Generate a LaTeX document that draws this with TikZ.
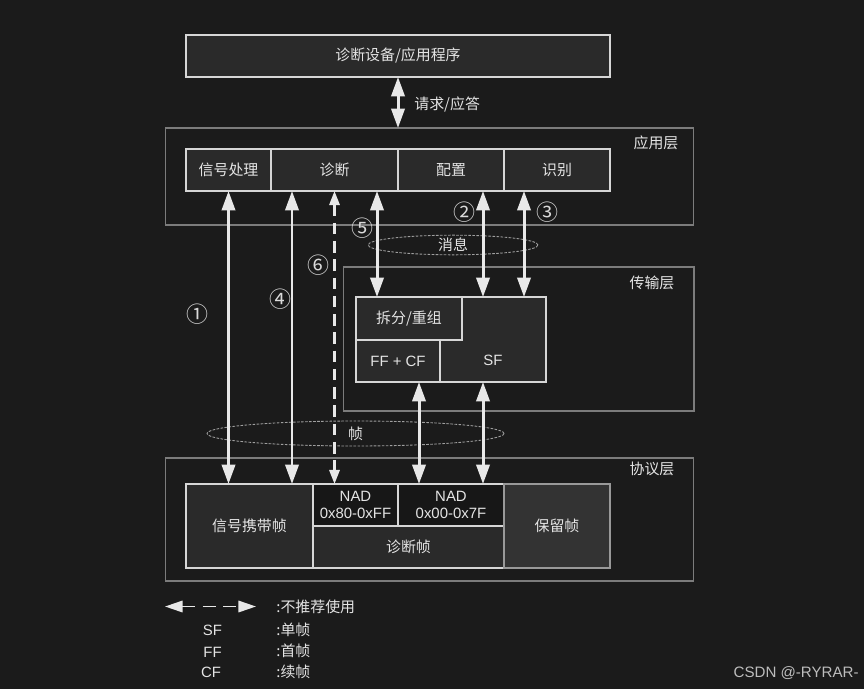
\documentclass[tikz,border=0pt]{standalone}
\usepackage{fontspec}
\setmainfont{Liberation Sans}
\newfontfamily\cjk{Noto Sans CJK SC}
\usetikzlibrary{arrows.meta, shapes.geometric}

\definecolor{bgc}{HTML}{1B1B1B}
\definecolor{boxfill}{HTML}{2A2A2A}
\definecolor{nadfill}{HTML}{171717}
\definecolor{resfill}{HTML}{333333}
\definecolor{boxline}{HTML}{D6D6D6}
\definecolor{layerline}{HTML}{7C7C7C}
\definecolor{txt}{HTML}{E4E4E4}
\definecolor{arr}{HTML}{E8E8E8}
\definecolor{wmark}{HTML}{BDBDBD}

\tikzset{
  box/.style={draw=boxline, line width=0.9pt, fill=boxfill, text=txt, inner sep=0pt, outer sep=0pt,
    font=\cjk\fontsize{8.5}{10}\selectfont, align=center},
  latin/.style={font=\fontsize{8.5}{9.6}\selectfont},
  layer/.style={draw=layerline, line width=0.6pt, inner sep=0pt, outer sep=0pt},
  lbl/.style={text=txt, font=\cjk\fontsize{8.5}{10}\selectfont, inner sep=0pt},
  num/.style={text=txt!90!gray, font=\cjk\fontsize{12.5}{14}\selectfont, inner sep=0pt},
  ring/.style={ellipse, draw=gray!75, line width=0.5pt, dash pattern=on 1.5pt off 0.8pt, inner sep=0pt,
    text=txt, font=\cjk\fontsize{8.5}{10}\selectfont},
  dbl/.style={arr, line width=1.7pt, {Triangle[length=11pt,width=7.5pt]}-{Triangle[length=11pt,width=7.5pt]}},
  dbldash/.style={arr, line width=1.4pt, dash pattern=on 6.6pt off 3.8pt,
    {Triangle[length=8pt,width=5.8pt]}-{Triangle[length=8pt,width=5.8pt]}},
  legdash/.style={arr, line width=1.1pt, dash pattern=on 7.4pt off 4.3pt,
    {Triangle[length=10pt,width=6.5pt]}-{Triangle[length=10pt,width=6.5pt]}},
}

\begin{document}
\begin{tikzpicture}[x=0.02cm, y=-0.02cm]

\fill[bgc] (0,0) rectangle (864,689);

% ---------- DIAGNOSTIC TOOL ----------

\node[box, minimum width=8.48cm, minimum height=0.84cm] (tool) at (398,56) {诊断设备/应用程序};

% ---------- APPLICATION LAYER ----------

\node[layer, minimum width=10.58cm, minimum height=1.94cm] (applayer) at (429.5,176.5) {};
\node[lbl] (applbl) at (656,143) {应用层};

\node[box, minimum width=1.70cm, minimum height=0.84cm] (sigproc) at (228.5,170) {信号处理};
\node[box, minimum width=2.54cm, minimum height=0.84cm] (diag) at (334.5,170) {诊断};
\node[box, minimum width=2.12cm, minimum height=0.84cm] (config) at (451,170) {配置};
\node[box, minimum width=2.12cm, minimum height=0.84cm] (ident) at (557,170) {识别};

% ---------- TRANSPORT LAYER ----------

\node[layer, minimum width=7.02cm, minimum height=2.88cm] (tplayer) at (518.5,339) {};
\node[lbl] (tplbl) at (652,283) {传输层};

\node[box, minimum width=3.80cm, minimum height=1.70cm] (tpblock) at (451,339.5) {};
\node[box, minimum width=2.12cm, minimum height=0.86cm] (split) at (409,318.5) {拆分/重组};
\node[box, latin, minimum width=1.68cm, minimum height=0.84cm] (ffcf) at (398,361) {FF + CF};
\node[lbl, latin] (sf) at (493,360) {SF};

% ---------- PROTOCOL LAYER ----------

\node[layer, minimum width=10.58cm, minimum height=2.46cm] (prlayer) at (429.5,519.5) {};
\node[lbl] (prlbl) at (652,469) {协议层};

\node[box, minimum width=2.54cm, minimum height=1.68cm] (sigframe) at (249.5,526) {信号携带帧};
\node[box, latin, fill=nadfill, minimum width=1.70cm, minimum height=0.84cm] (nadhi) at (355.5,505) {NAD\\0x80-0xFF};
\node[box, latin, fill=nadfill, minimum width=2.12cm, minimum height=0.84cm] (nadlo) at (451,505) {NAD\\0x00-0x7F};
\node[box, minimum width=3.82cm, minimum height=0.84cm] (diagframe) at (408.5,547) {诊断帧};
\node[box, fill=resfill, draw=gray!80, line width=1.1pt, minimum width=2.12cm, minimum height=1.68cm] (reserved) at (557,526) {保留帧};

% ---------- MESSAGE / FRAME ----------

\node[ring, minimum width=3.40cm, minimum height=0.38cm] (msg) at (453,245) {消息};
\node[ring, minimum width=5.94cm, minimum height=0.50cm] (frm) at (355.5,433.5) {帧};

% ---------- CONNECTIONS ----------

\coordinate (c4) at (292,0);
\coordinate (c5) at (377,0);
\coordinate (c2) at (483,0);
\coordinate (c3) at (524,0);
\coordinate (c7) at (419,0);

\draw[dbl] (tool.south) -- (tool.south |- applayer.north);
\node[lbl, anchor=west] (reqlbl) at (414,105) {请求/应答};

\draw[dbl] (sigproc.south) -- (sigproc.south |- sigframe.north);
\draw[dbl] (diag.south -| c4) -- (sigframe.north -| c4);
\draw[dbldash] (diag.south) -- (diag.south |- nadhi.north);
\draw[dbl] (diag.south -| c5) -- (split.north -| c5);
\draw[dbl] (config.south -| c2) -- (tpblock.north -| c2);
\draw[dbl] (ident.south -| c3) -- (tpblock.north -| c3);
\draw[dbl] (ffcf.south -| c7) -- (nadlo.north -| c7);
\draw[dbl] (tpblock.south -| c2) -- (nadlo.north -| c2);

\node[num] (n1) at (197,314) {①};
\node[num] (n2) at (464,212) {②};
\node[num] (n3) at (547,212) {③};
\node[num] (n4) at (280,299) {④};
\node[num] (n5) at (362,228) {⑤};
\node[num] (n6) at (318,265) {⑥};

% ---------- LEGEND ----------

\coordinate (lgl) at (165,606.5);
\coordinate (lgr) at (256,606.5);
\draw[legdash] (lgl) -- (lgr);
\node[lbl, anchor=west] (lg0) at (276,606.5) {:不推荐使用};

\node[lbl, latin] (lsf) at (212.5,630) {SF};
\node[lbl, anchor=west] (lg1) at (276,630) {:单帧};
\node[lbl, latin] (lff) at (212.5,652) {FF};
\node[lbl, anchor=west] (lg2) at (276,651) {:首帧};
\node[lbl, latin] (lcf) at (211,672) {CF};
\node[lbl, anchor=west] (lg3) at (276,672) {:续帧};

\node[anchor=east, text=wmark, inner sep=0pt, font=\fontsize{8.6}{10}\selectfont] (wm) at (859,673) {CSDN @-RYRAR-};

\end{tikzpicture}
\end{document}
